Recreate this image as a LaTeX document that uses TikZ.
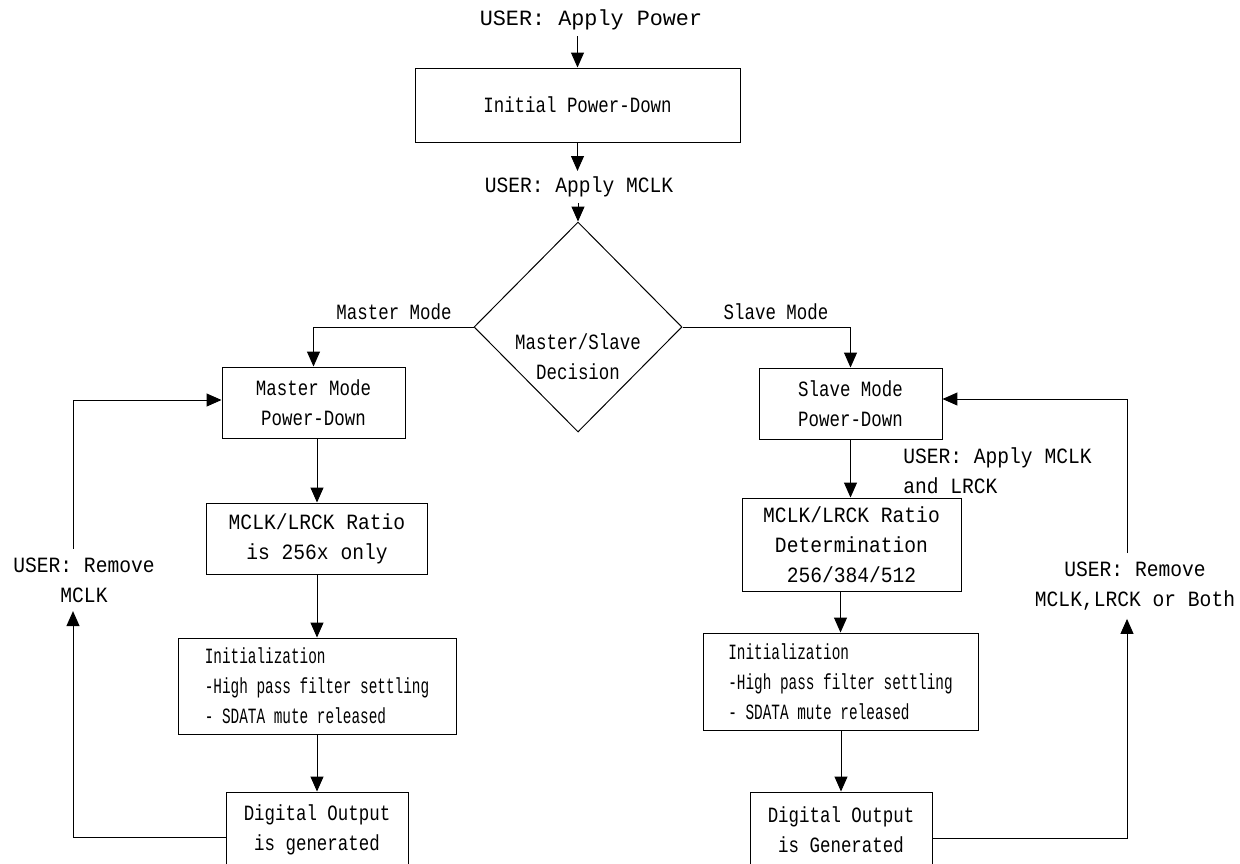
\documentclass[tikz,border=0pt]{standalone}
\usepackage{fontspec}
\setmonofont{Liberation Mono}
\newfontfamily\lblfont[FakeStretch=0.9]{Liberation Mono}
\newfontfamily\boxfont[FakeStretch=0.8]{Liberation Mono}
\newfontfamily\initfont[FakeStretch=0.66]{Liberation Mono}
\usetikzlibrary{arrows.meta, shapes.geometric}
\newcommand{\pxl}{0.025cm}
\newcommand{\fsz}{\fontsize{15.5}{21.3}\selectfont}
\tikzset{
  blok/.style={draw, line width=0.7pt, align=center, inner sep=0pt, font=\boxfont\fsz},
  metka/.style={align=center, inner sep=4pt, font=\lblfont\fsz},
  strelka/.style={-{Triangle[length=10.6pt,width=9.2pt]}, line width=0.7pt},
  liniya/.style={line width=0.7pt},
}
\begin{document}
\begin{tikzpicture}[x=\pxl, y=-\pxl]
					\clip (0,0) rectangle (1240,863);
					
					% Верхняя часть
					\node[metka, font=\ttfamily\fsz] (pwr) at (591,20) {USER: Apply Power};
					\node[blok, minimum width=325*\pxl, minimum height=74*\pxl] (init) at (577.5,105) {Initial Power-Down};
					\node[metka] (mclk) at (579,187) {USER: Apply MCLK};
					\node[blok, diamond, minimum width=208*\pxl, minimum height=210*\pxl] (dec) at (578,327) {};
					\node[metka, font=\boxfont\fsz] (dectxt) at (578,357) {Master/Slave\\Decision};
					\node[metka, font=\boxfont\fsz] (mmode) at (394,312) {Master Mode};
					\node[metka, font=\boxfont\fsz] (smode) at (776,312) {Slave Mode};
					
					% Левая ветвь
					\node[blok, minimum width=183*\pxl, minimum height=71*\pxl] (mpd) at (313.5,402.5) {Master Mode\\Power-Down};
					\node[blok, font=\lblfont\fsz, minimum width=221*\pxl, minimum height=71*\pxl] (mratio) at (317,538.5) {MCLK/LRCK Ratio\\is 256x only};
					\node[blok, font=\initfont\fsz, align=left, minimum width=278*\pxl, minimum height=96*\pxl] (minit) at (317,686) {Initialization\\-High pass filter settling\\- SDATA mute released};
					\node[blok, minimum width=182*\pxl, minimum height=76*\pxl] (mout) at (317,830) {Digital Output\\is generated};
					\node[metka, inner sep=6pt] (mrem) at (84,580) {USER: Remove\\MCLK};
					
					% Правая ветвь
					\node[blok, minimum width=183*\pxl, minimum height=71*\pxl] (spd) at (850.5,403.5) {Slave Mode\\Power-Down};
					\node[metka, anchor=west, inner sep=0pt, align=left] (smclk) at (903,471) {USER: Apply MCLK\\and LRCK};
					\node[blok, font=\lblfont\fsz, minimum width=219*\pxl, minimum height=93*\pxl] (sratio) at (851.5,544.5) {MCLK/LRCK Ratio\\Determination\\256/384/512};
					\node[blok, font=\initfont\fsz, align=left, minimum width=275*\pxl, minimum height=97*\pxl] (sinit) at (840.5,681.5) {Initialization\\-High pass filter settling\\- SDATA mute released};
					\node[blok, minimum width=182*\pxl, minimum height=76*\pxl] (sout) at (841,830) {Digital Output\\is Generated};
					\node[metka, inner sep=6pt] (srem) at (1135,586) {USER: Remove\\MCLK,LRCK or Both};
					
					% Точки обратных связей
					\coordinate (lb) at (73,837);
					\coordinate (lt) at (73,400);
					\coordinate (rb) at (1127,838);
					\coordinate (rt) at (1127,399);
					
					% Стрелки
					\draw[strelka] (pwr.south -| init.north) -- (init.north);
					\draw[strelka] (init.south) -- (init.south |- mclk.north);
					\draw[strelka] (mclk.south -| dec.north) -- (dec.north);
					\draw[strelka] (dec.west) -| (mpd.north);
					\draw[strelka] (dec.east) -| (spd.north);
					\draw[strelka] (mpd.south -| mratio.north) -- (mratio.north);
					\draw[strelka] (mratio.south) -- (minit.north);
					\draw[strelka] (minit.south) -- (mout.north);
					\draw[strelka] (spd.south) -- (spd.south |- sratio.north);
					\draw[strelka] (sratio.south -| sinit.north) -- (sinit.north);
					\draw[strelka] (sinit.south -| sout.north) -- (sout.north);
					\draw[strelka] (mout.west |- lb) -- (lb) -- (lb |- mrem.south);
					\draw[strelka] (lb |- mrem.north) -- (lt) -- (mpd.west |- lt);
					\draw[strelka] (sout.east |- rb) -- (rb) -- (rb |- srem.south);
					\draw[strelka] (rb |- srem.north) -- (rt) -- (spd.east |- rt);
				\end{tikzpicture}
\end{document}
